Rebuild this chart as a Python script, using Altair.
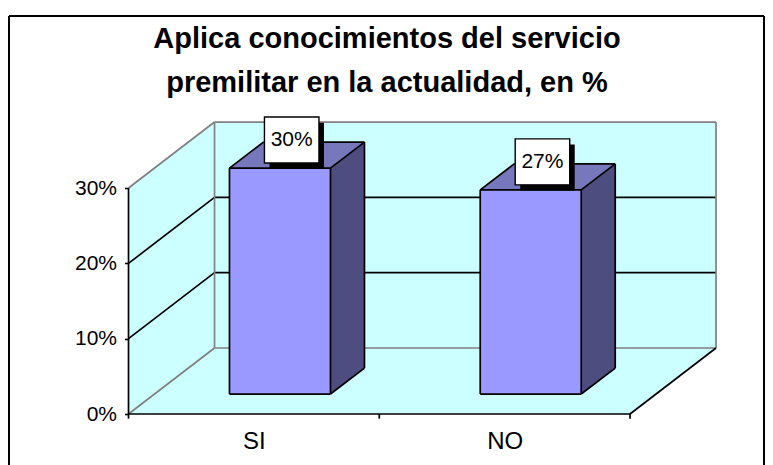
import altair as alt
import pandas as pd

categories = ["SI", "NO"]
values = [30, 27.1]
value_labels = ["30%", "27%"]
title_lines = ["Aplica conocimientos del servicio", "premilitar en la actualidad, en %"]
y_ticks = [0, 10, 20, 30]
x_tick_positions = [0, 1, 2]

# 3-D projection, in data units (x: category slots, y: percent)
DX, DY = 0.343, 8.76          # wall depth
BAR_DX, BAR_DY = 0.1356, 3.45 # bar depth
BAR_SHIFT_X, BAR_SHIFT_Y = 0.104, 2.65
BAR_HALF = 0.2014
WALL_TOP = 30

W, H = 757, 457
xs = alt.Scale(domain=[-0.4806, 2.5383], nice=False, zero=False)
ys = alt.Scale(domain=[-6.77, 53.9], nice=False, zero=False)

label_expr = "datum.value < 1 ? '%s' : '%s'" % (categories[0], categories[1])
x_axis = alt.Axis(values=[0.5, 1.5], labelExpr=label_expr, ticks=False, domain=False, grid=False, title=None,
                  labelFont="Liberation Sans", labelFontSize=24, labelColor="#000000", labelPadding=15,
                  offset=-51, orient="bottom", labelFlush=False)
y_axis = alt.Axis(values=y_ticks, labelExpr="datum.value + '%'", ticks=True, tickSize=4, tickWidth=1.6,
                  tickColor="#000000", domain=False, grid=False, title=None,
                  labelFont="Liberation Sans", labelFontSize=21, labelColor="#000000", labelPadding=8,
                  offset=-120.5, orient="left")


def X(f="x"):
    return alt.X(f + ":Q", scale=xs, stack=False, axis=x_axis)


def Y(f="y"):
    return alt.Y(f + ":Q", scale=ys, stack=False, axis=y_axis)


def para_v(rows, color):
    """vertical-sided parallelogram: x, y, y2"""
    return alt.Chart(pd.DataFrame(rows)).mark_area(color=color, opacity=1, interpolate="linear").encode(
        x=X(), y=Y(), y2="y2:Q", detail="k:N")


def para_h(rows, color):
    """horizontal-sided parallelogram: y, x, x2"""
    return alt.Chart(pd.DataFrame(rows)).mark_area(color=color, opacity=1, orient="horizontal", interpolate="linear").encode(
        y=Y(), x=X(), x2="x2:Q", detail="k:N")


def edges(rows, color, width=1.7):
    df = pd.DataFrame(rows, columns=["x", "y", "x2", "y2"])
    return alt.Chart(df).mark_rule(color=color, strokeWidth=width).encode(
        x=X(), y=Y(), x2="x2:Q", y2="y2:Q")


WALL = "#CCFFFF"
GRAY = "#808080"

back = para_v([{"k": 0, "x": DX, "y": DY, "y2": DY + WALL_TOP},
               {"k": 0, "x": 2 + DX, "y": DY, "y2": DY + WALL_TOP}], WALL)
left = para_v([{"k": 0, "x": 0, "y": 0, "y2": WALL_TOP},
               {"k": 0, "x": DX, "y": DY, "y2": DY + WALL_TOP}], WALL)
floor = para_h([{"k": 0, "y": 0, "x": 0, "x2": 2},
                {"k": 0, "y": DY, "x": DX, "x2": 2 + DX}], WALL)

grid_rows = []
for t in y_ticks[1:-1]:
    grid_rows.append((0, t, DX, t + DY))
    grid_rows.append((DX, t + DY, 2 + DX, t + DY))
grid = edges(grid_rows, "#000000")

gray_edges = edges([
    (DX, DY + WALL_TOP, 2 + DX, DY + WALL_TOP),
    (2 + DX, DY, 2 + DX, DY + WALL_TOP),
    (DX, DY, DX, DY + WALL_TOP),
    (DX, DY, 2 + DX, DY),
    (0, WALL_TOP, DX, DY + WALL_TOP),
    (0, 0, DX, DY),
], GRAY)

black_edges = edges([
    (0, 0, 0, WALL_TOP),
    (0, 0, 2, 0),
    (2, 0, 2 + DX, DY),
] + [(p, 0, p, -0.62) for p in x_tick_positions], "#000000")

layers = [back, left, floor, grid, gray_edges, black_edges]

for i, (c, v) in enumerate(zip(categories, values)):
    xl = i + 0.5 + BAR_SHIFT_X - BAR_HALF
    xr = i + 0.5 + BAR_SHIFT_X + BAR_HALF
    y0 = BAR_SHIFT_Y
    y1 = BAR_SHIFT_Y + v
    layers.append(para_v([{"k": c, "x": xl, "y": y0, "y2": y1},
                          {"k": c, "x": xr, "y": y0, "y2": y1}], "#9999FF"))
    layers.append(para_h([{"k": c, "y": y1, "x": xl, "x2": xr},
                          {"k": c, "y": y1 + BAR_DY, "x": xl + BAR_DX, "x2": xr + BAR_DX}], "#7777BB"))
    layers.append(para_v([{"k": c, "x": xr, "y": y0, "y2": y1},
                          {"k": c, "x": xr + BAR_DX, "y": y0 + BAR_DY, "y2": y1 + BAR_DY}], "#4D4D80"))
    layers.append(edges([
        (xl, y0, xr, y0), (xl, y1, xr, y1), (xl, y0, xl, y1), (xr, y0, xr, y1),
        (xl, y1, xl + BAR_DX, y1 + BAR_DY),
        (xr, y1, xr + BAR_DX, y1 + BAR_DY),
        (xr, y0, xr + BAR_DX, y0 + BAR_DY),
        (xl + BAR_DX, y1 + BAR_DY, xr + BAR_DX, y1 + BAR_DY),
        (xr + BAR_DX, y0 + BAR_DY, xr + BAR_DX, y1 + BAR_DY),
    ], "#000000"))

# data labels: shadow + white box + text
lab = pd.DataFrame({"cat": categories, "v": values, "label": value_labels})
lab["cx"] = [i + 0.5 + BAR_SHIFT_X + 0.0468 for i in range(len(categories))]
lab["cy"] = lab["v"] + BAR_SHIFT_Y + 3.72
BW, BH = 0.1087, 3.05
SX, SY = 0.02, -0.75
lab["x0"], lab["x1"] = lab["cx"] - BW, lab["cx"] + BW
lab["y0"], lab["y1"] = lab["cy"] - BH, lab["cy"] + BH
lab["sx0"], lab["sx1"] = lab["x0"] + SX, lab["x1"] + SX
lab["sy0"], lab["sy1"] = lab["y0"] + SY, lab["y1"] + SY

shadow = alt.Chart(lab).mark_rect(color="#000000").encode(x=X("sx0"), x2="sx1:Q", y=Y("sy0"), y2="sy1:Q")
box = alt.Chart(lab).mark_rect(fill="#FFFFFF", stroke="#000000", strokeWidth=1.4).encode(
    x=X("x0"), x2="x1:Q", y=Y("y0"), y2="y1:Q")
text = alt.Chart(lab).mark_text(font="Liberation Sans", fontSize=21, color="#000000", baseline="middle", align="center").encode(
    x=X("cx"), y=Y("cy"), text="label:N")
layers += [shadow, box, text]

frame = alt.Chart(pd.DataFrame({"a": [1]})).mark_rule(color="#000000", strokeWidth=2)
frame_left = frame.encode(x=alt.value(1), x2=alt.value(1), y=alt.value(8), y2=alt.value(H))
frame_top = frame.encode(x=alt.value(1), x2=alt.value(756), y=alt.value(8), y2=alt.value(8))
frame_right = frame.encode(x=alt.value(756), x2=alt.value(756), y=alt.value(8), y2=alt.value(H))

chart = alt.layer(*layers, frame_left, frame_top, frame_right).properties(
    width=W, height=H, padding=0, autosize="none", background="#FFFFFF",
    title=alt.TitleParams(text=title_lines, orient="top", anchor="start", align="center", frame="group",
                          dx=379, offset=-89.5, font="Liberation Sans", fontSize=29, fontWeight="bold",
                          lineHeight=44, color="#000000"),
).configure_view(stroke=None)

chart.save("out.html", embed_options={"renderer": "svg", "actions": False})
